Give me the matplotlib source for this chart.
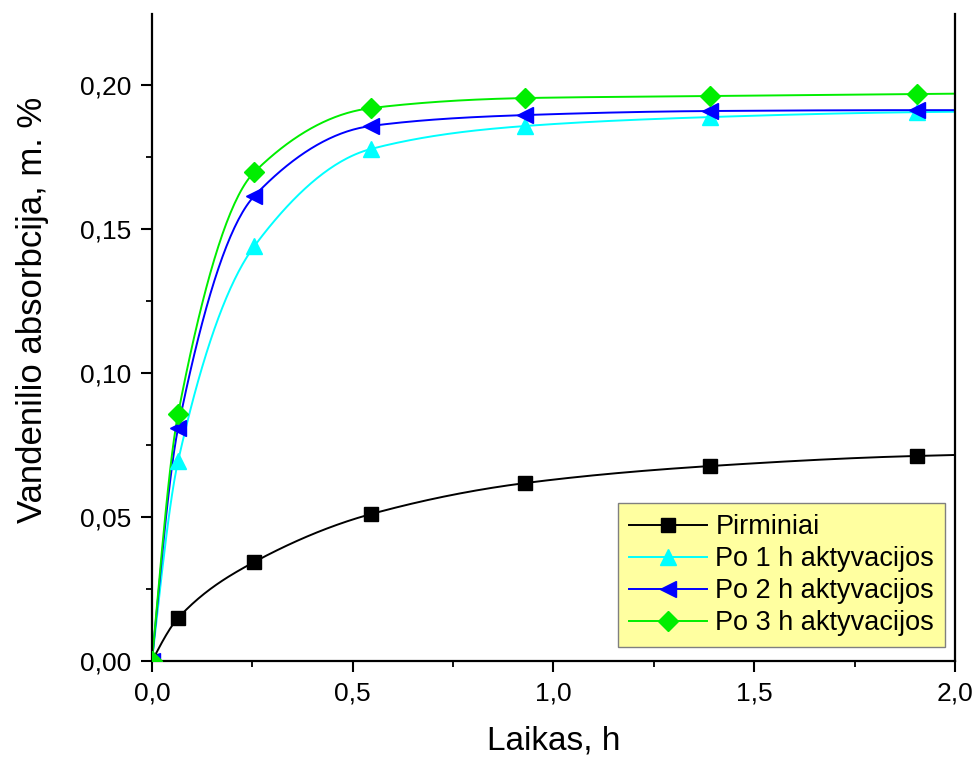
import numpy as np
import matplotlib
matplotlib.use('Agg')
import matplotlib.pyplot as plt
from matplotlib.ticker import MultipleLocator, FuncFormatter

plt.rcParams['font.family'] = ['Liberation Sans', 'DejaVu Sans']

# duomenys nuskaityti nuo grafiko
laikas = [0.0, 0.065, 0.255, 0.545, 0.93, 1.39, 1.905]
pirminiai = [0.0, 0.0149, 0.0344, 0.0510, 0.0618, 0.0677, 0.0712]
po1h = [0.0, 0.0694, 0.1441, 0.1778, 0.1858, 0.1889, 0.1906]
po2h = [0.0, 0.0809, 0.1615, 0.1858, 0.1896, 0.1910, 0.1913]
po3h = [0.0, 0.0858, 0.1698, 0.1920, 0.1955, 0.1962, 0.1969]
pavadinimai = ['Pirminiai', 'Po 1 h aktyvacijos', 'Po 2 h aktyvacijos', 'Po 3 h aktyvacijos']


def pchip(x, y, xn):
    # monotoninis kubinis splainas linijai (tik piesimui)
    x = np.asarray(x, float); y = np.asarray(y, float)
    h = np.diff(x); d = np.diff(y) / h
    m = np.zeros_like(y)
    for k in range(1, len(x) - 1):
        if d[k - 1] * d[k] > 0:
            w1 = 2 * h[k] + h[k - 1]; w2 = h[k] + 2 * h[k - 1]
            m[k] = (w1 + w2) / (w1 / d[k - 1] + w2 / d[k])
    m[0] = max(((2 * h[0] + h[1]) * d[0] - h[0] * d[1]) / (h[0] + h[1]), 0)
    m[-1] = max(((2 * h[-1] + h[-2]) * d[-1] - h[-1] * d[-2]) / (h[-1] + h[-2]), 0)
    out = np.empty_like(xn)
    for i, xv in enumerate(xn):
        k = min(max(np.searchsorted(x, xv) - 1, 0), len(x) - 2)
        if xv > x[-1]:
            out[i] = y[-1] + m[-1] * (xv - x[-1])
            continue
        t = (xv - x[k]) / h[k]
        h00 = 2 * t**3 - 3 * t**2 + 1; h10 = t**3 - 2 * t**2 + t
        h01 = -2 * t**3 + 3 * t**2; h11 = t**3 - t**2
        out[i] = h00 * y[k] + h10 * h[k] * m[k] + h01 * y[k + 1] + h11 * h[k] * m[k + 1]
    return out


fig = plt.figure(figsize=(9.78, 7.6), dpi=100)
ax = fig.add_axes([0.1554, 0.1303, 0.8211, 0.8513])

serijos = [pirminiai, po1h, po2h, po3h]
spalvos = ['black', '#00ffff', '#0000ff', '#00ee00']
markeriai = ['s', '^', '<', 'D']
dydziai = [10, 12, 12, 10]

xs = np.linspace(0, 2.0, 400)
for y, c, mk, ms, lab in zip(serijos, spalvos, markeriai, dydziai, pavadinimai):
    ax.plot(xs, pchip(laikas, y, xs), color=c, lw=1.4, zorder=2)
    ax.plot(laikas, y, linestyle='none', marker=mk, color=c, ms=ms, zorder=3)
    ax.plot([], [], color=c, lw=1.4, marker=mk, ms=ms, label=lab)

ax.set_xlim(0, 2.0)
ax.set_ylim(0, 0.2247)
ax.xaxis.set_major_locator(MultipleLocator(0.5))
ax.xaxis.set_minor_locator(MultipleLocator(0.25))
ax.yaxis.set_major_locator(MultipleLocator(0.05))
ax.yaxis.set_minor_locator(MultipleLocator(0.025))
ax.xaxis.set_major_formatter(FuncFormatter(lambda v, p: f'{v:.1f}'.replace('.', ',')))
ax.yaxis.set_major_formatter(FuncFormatter(lambda v, p: f'{v:.2f}'.replace('.', ',')))

ax.spines['top'].set_visible(False)
for s in ['left', 'bottom', 'right']:
    ax.spines[s].set_linewidth(1.6)
ax.tick_params(which='major', direction='out', length=8, width=1.5, labelsize=19, pad=7)
ax.tick_params(which='minor', direction='out', length=4.5, width=1.3)
ax.tick_params(right=False, top=False)

ax.set_xlabel('Laikas, h', fontsize=24, labelpad=14)
ax.set_ylabel('Vandenilio absorbcija, m. %', fontsize=25)
ax.yaxis.set_label_coords(-0.128, 0.542)

leg = ax.legend(loc='lower right', bbox_to_anchor=(0.9875, 0.0216), fontsize=19.5,
                fancybox=False, framealpha=1, facecolor='#ffffa0', edgecolor='#808080',
                handlelength=2.9, borderpad=0.4, labelspacing=0.22, handletextpad=0.3,
                borderaxespad=0)
leg.get_frame().set_linewidth(1.0)

fig.savefig('out.png', dpi=100)
